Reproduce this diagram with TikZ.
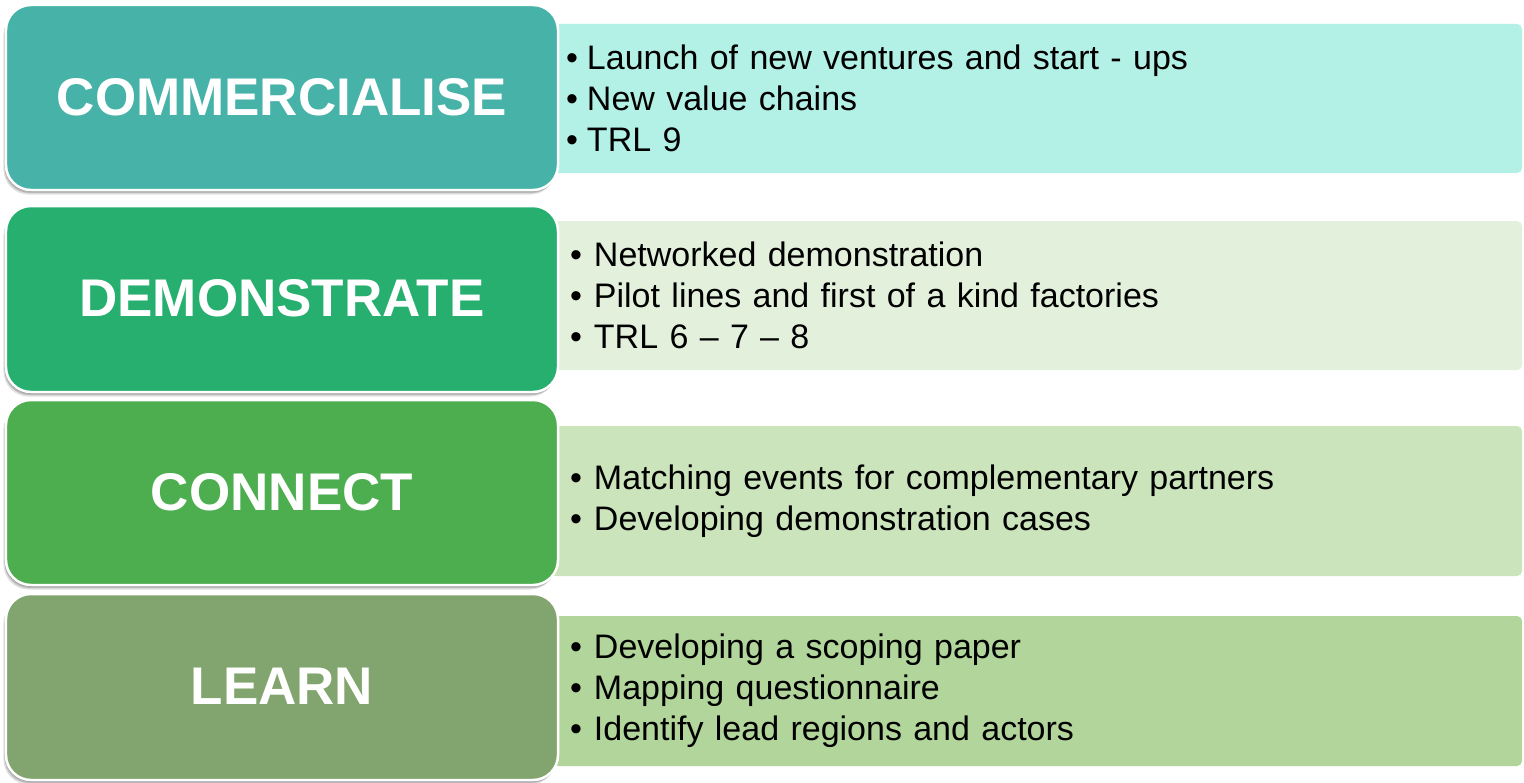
\documentclass[tikz,border=0pt]{standalone}
\usepackage{fontspec}
\setmainfont{Liberation Sans}
\usetikzlibrary{shadows}
\definecolor{lA}{HTML}{47B3A8}
\definecolor{lB}{HTML}{26AF6F}
\definecolor{lC}{HTML}{4CAE4F}
\definecolor{lD}{HTML}{82A46E}
\definecolor{rA}{HTML}{B3F0E5}
\definecolor{rB}{HTML}{E3F0DC}
\definecolor{rC}{HTML}{CBE4BC}
\definecolor{rD}{HTML}{B1D59A}
\newcommand{\itmA}[1]{\makebox[21bp][l]{•}#1}
\newcommand{\itmB}[1]{\makebox[24bp][l]{•}#1}
\tikzset{
  leftbox/.style={rectangle, rounded corners=25bp, minimum width=552bp, minimum height=185bp,
    draw=white, line width=2.5bp, text=white, inner sep=0pt,
    font=\fontsize{53bp}{60bp}\selectfont\bfseries,
    drop shadow={shadow xshift=-2.5bp, shadow yshift=-4.5bp, opacity=0.12, fill=black},
    drop shadow={shadow xshift=-1.5bp, shadow yshift=-3bp, opacity=0.18, fill=black},
    drop shadow={shadow xshift=-0.5bp, shadow yshift=-1.5bp, opacity=0.25, fill=black}},
  rightbox/.style={rectangle, rounded corners=5bp, minimum width=972bp, minimum height=149bp,
    inner ysep=0pt, text=black, align=left, text width=#1,
    font=\fontsize{34bp}{41bp}\selectfont},
}
\begin{document}
\begin{tikzpicture}[x=1bp,y=-1bp]
\useasboundingbox (0,0) rectangle (1524,782);
\fill[white] (0,0) rectangle (1524,782);
% right boxes
\node[rightbox=940bp, inner xsep=16bp, fill=rA] (r1) at (1036,98.5)
  {\itmA{Launch of new ventures and start - ups}\\\itmA{New value chains}\\\itmA{TRL 9}};
\node[rightbox=932bp, inner xsep=20bp, fill=rB] (r2) at (1036,295.5)
  {\itmB{Networked demonstration}\\\itmB{Pilot lines and first of a kind factories}\\\itmB{TRL 6 – 7 – 8}};
\node[rightbox=932bp, inner xsep=20bp, fill=rC, minimum height=150bp] (r3) at (1036,501)
  {\itmB{Matching events for complementary partners}\\\itmB{Developing demonstration cases}};
\node[rightbox=932bp, inner xsep=20bp, fill=rD, minimum height=150bp] (r4) at (1036,691)
  {\itmB{Developing a scoping paper}\\\itmB{Mapping questionnaire}\\\itmB{Identify lead regions and actors}};
% left boxes
\node[leftbox, fill=lA, text depth=2bp] (l1) at (282,97.5) {COMMERCIALISE};
\node[leftbox, fill=lB, minimum height=186bp, text depth=2bp] (l2) at (282,299) {DEMONSTRATE};
\node[leftbox, fill=lC, text depth=1bp] (l3) at (282,492.5) {CONNECT};
\node[leftbox, fill=lD, minimum height=186bp, text depth=1bp] (l4) at (282,687) {LEARN};
\end{tikzpicture}
\end{document}
